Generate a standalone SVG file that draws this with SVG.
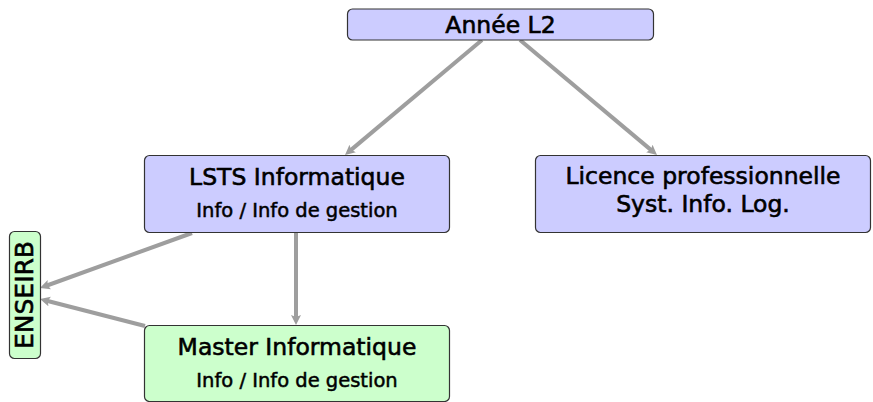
<svg xmlns="http://www.w3.org/2000/svg" width="873" height="402" viewBox="0 0 873 402">
<style>
.box{stroke:#333;stroke-width:1.2}
.blue{fill:#ccccff}
.green{fill:#ccffcc}
.t{font-family:"DejaVu Sans","Liberation Sans",sans-serif;fill:#000;stroke:#000;text-anchor:middle}
.big{font-size:23.5px;stroke-width:0.6}
.small{font-size:19.5px;stroke-width:0.5}
.edge{fill:none;stroke:#9e9e9e;stroke-width:4;marker-end:url(#ah)}
</style>
<defs>
<marker id="ah" markerUnits="userSpaceOnUse" markerWidth="12" markerHeight="12" refX="4" refY="5" orient="auto" viewBox="0 0 12 12">
<path d="M0,0 L10,5 L0,10 L2,5 z" fill="#9e9e9e"/>
</marker>
</defs>
<rect width="873" height="402" fill="#fff"/>
<g id="connectors">
<line class="edge" x1="482" y1="40" x2="349.6" y2="151.1"/>
<line class="edge" x1="520" y1="40" x2="652.4" y2="151.1"/>
<line class="edge" x1="296" y1="232" x2="296" y2="319"/>
<line class="edge" x1="192" y1="233" x2="45.6" y2="286"/>
<line class="edge" x1="145" y1="326" x2="45.8" y2="300.5"/>
</g>
<g id="annee">
<rect class="box blue" x="347.5" y="9" width="306" height="31" rx="5"/>
<text class="t big" x="500.5" y="33">Année L2</text>
</g>
<g id="lsts">
<rect class="box blue" x="144.5" y="155.5" width="305" height="77" rx="5"/>
<text class="t big" x="297" y="185">LSTS Informatique</text>
<text class="t small" x="297" y="217">Info / Info de gestion</text>
</g>
<g id="licence">
<rect class="box blue" x="535.5" y="155.5" width="335" height="77" rx="5"/>
<text class="t big" x="703" y="184">Licence professionnelle</text>
<text class="t big" x="703" y="212">Syst. Info. Log.</text>
</g>
<g id="master">
<rect class="box green" x="144.5" y="325.5" width="305" height="76" rx="5"/>
<text class="t big" x="297" y="355">Master Informatique</text>
<text class="t small" x="297" y="387">Info / Info de gestion</text>
</g>
<g id="enseirb">
<rect class="box green" x="9.5" y="231.5" width="31" height="127" rx="5"/>
<text class="t big" x="0" y="0" transform="translate(33,295) rotate(-90)" style="font-size:25px">ENSEIRB</text>
</g>
</svg>
